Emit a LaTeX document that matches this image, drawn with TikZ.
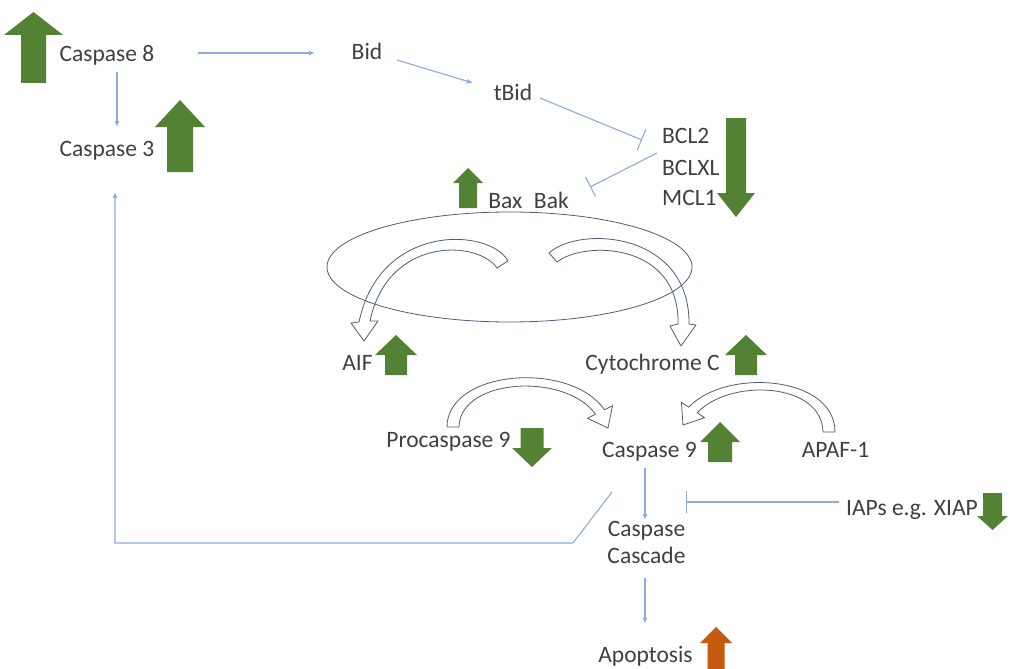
\documentclass[tikz,border=0pt]{standalone}
\usepackage{fontspec}
\setmainfont{Carlito}
\usetikzlibrary{arrows.meta,calc,shapes.geometric}

\definecolor{upgreen}{HTML}{548235}
\definecolor{uporange}{HTML}{C55A11}
\definecolor{linkblue}{HTML}{8FAADC}
\definecolor{rimgrey}{HTML}{4F5D78}
\definecolor{labelgrey}{HTML}{404040}

\tikzset{
  pics/change/.style n args={4}{code={% width, length, shaft, head
    \fill (0,-#2/2) -- (#1/2,-#2/2+#4) -- (#3/2,-#2/2+#4) -- (#3/2,#2/2)
      -- (-#3/2,#2/2) -- (-#3/2,-#2/2+#4) -- (-#1/2,-#2/2+#4) -- cycle;}},
}

\begin{document}
\begin{tikzpicture}[
  x=1pt, y=-1pt,
  font=\fontsize{23.5}{27}\selectfont,
  lbl/.style={inner sep=0pt, text=labelgrey, anchor=base},
  flow/.style={-{Latex[length=6pt,width=5pt]}, draw=linkblue, line width=1.1pt},
  block/.style={-{Bar[width=22pt]}, draw=linkblue, line width=1.1pt},
  curvearrow/.style={draw=rimgrey, line width=0.8pt, line join=round},
]
  \useasboundingbox[fill=white] (0,0) rectangle (1010,669);

  % labels
  \node[lbl] (c8) at (107,62) {Caspase 8};
  \node[lbl] (c3) at (107,156) {Caspase 3};
  \node[lbl] (bid) at (367,60) {Bid};
  \node[lbl] (tbid) at (513,100) {tBid};
  \node[lbl, anchor=base west] (bcl2) at (662,143) {BCL2};
  \node[lbl, anchor=base west] (bclxl) at (662,175) {BCLXL};
  \node[lbl, anchor=base west] (mcl1) at (662,205) {MCL1};
  \node[lbl] (baxbak) at (528.5,208) {Bax\enspace Bak};
  \node[draw=rimgrey, line width=0.8pt, ellipse, inner sep=0pt,
    minimum width=365pt, minimum height=110pt] (mito) at (509.5,267) {};
  \node[lbl] (aif) at (357.5,370) {AIF};
  \node[lbl] (cytc) at (652.5,370) {Cytochrome C};
  \node[lbl] (procasp9) at (448.5,447) {Procaspase 9};
  \node[lbl] (casp9) at (649.5,457) {Caspase 9};
  \node[lbl] (apaf) at (835.5,457) {APAF-1};
  \node[lbl, anchor=north, align=center] (casc) at (646.5,521) {Caspase\\Cascade};
  \node[lbl] (iaps) at (912,515) {IAPs e.g. XIAP};
  \node[lbl] (apop) at (645.5,662) {Apoptosis};

  % up / down regulation
  \pic[fill=upgreen] at (33.5,47.5) {change={59}{71}{25}{23}};
  \pic[fill=upgreen] at (180,136) {change={50}{72}{26}{27}};
  \pic[fill=upgreen, rotate=180] at (736,167.5) {change={38}{99}{20}{24}};
  \pic[fill=upgreen] at (468,188) {change={30}{40}{18}{15}};
  \pic[fill=upgreen] at (396,355) {change={42}{40}{22}{20}};
  \pic[fill=upgreen] at (746,355) {change={42}{40}{22}{20}};
  \pic[fill=upgreen, rotate=180] at (532,447.5) {change={40}{39}{23}{19}};
  \pic[fill=upgreen] at (720,442) {change={40}{40}{24}{20}};
  \pic[fill=upgreen, rotate=180] at (992.5,511.5) {change={31}{37}{19}{14}};
  \pic[fill=uporange] at (716,648) {change={32}{42}{17}{16}};

  % release from the mitochondrion
  \draw[curvearrow] (508,261) .. controls (490,228) and (380,222) .. (359,322)
    -- (351,323) -- (364,341) -- (378,321) -- (370,321)
    .. controls (388,236) and (478,240) .. (497,268) -- cycle;
  \draw[curvearrow] (549,253) .. controls (580,225) and (690,232) .. (689,324)
    -- (696,325) -- (681,346) -- (670,326) -- (678,324)
    .. controls (680,243) and (585,240) .. (557,262) -- cycle;
  \draw[curvearrow] (447,427) .. controls (447,370) and (570,360) .. (604.5,409.8)
    -- (612.5,405.7) -- (608,428) -- (587.5,418.3) -- (595.5,414.2)
    .. controls (565,372) and (460,378) .. (459,427) -- cycle;
  \draw[curvearrow] (835,432) .. controls (835,375) and (725,368) .. (688.8,407.2)
    -- (681.4,402.3) -- (683,425) -- (704.6,417.7) -- (697.2,412.7)
    .. controls (730,378) and (822,382) .. (823,432) -- cycle;

  % links
  \draw[flow] ($(c8.base)+(91,-9)$) -- ($(bid.base)+(-52,-7)$);
  \draw[flow] ($(c8.base)+(10,10)$) -- ($(c3.base)+(10,-29)$);
  \draw[flow] ($(bid.base)+(30,0)$) -- ($(tbid.base)+(-40,-17)$);
  \draw[block] ($(tbid.base)+(27,-2)$) -- ($(bcl2.base west)+(-20,-3)$);
  \draw[block] ($(bcl2.base west)+(-5,10)$) -- ($(baxbak.base)+(61.5,-21)$);
  \draw[flow] ($(casp9.base)+(-4.5,11)$) -- ($(casc.north)+(-1.5,-1)$);
  \draw[block] ($(iaps.base west)+(-7,-13)$) -- ($(casc.north east)+(0,-19)$);
  \draw[flow] ($(casc.south)+(-1.5,14)$) -- ($(apop.north)+(-0.5,-22)$);
  \draw[flow] ($(casp9.base)+(-37.5,35)$) -- ++(-39,51) -| ($(c3.base)+(8,36)$);
\end{tikzpicture}
\end{document}
